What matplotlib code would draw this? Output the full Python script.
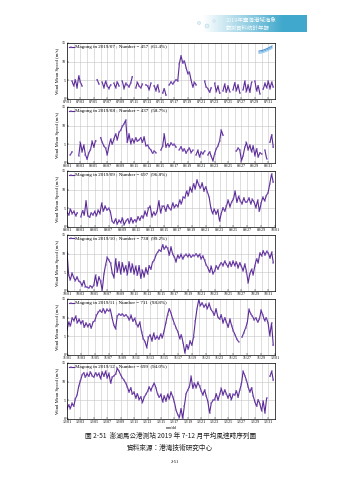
import numpy as np
import pandas as pd
import matplotlib
matplotlib.use('Agg')
from matplotlib import pyplot as plt

nan = np.nan

# 6-hourly wind mean speed (m/s), 4 values per day
month_starts = ['2019-07-01', '2019-08-01', '2019-09-01', '2019-10-01', '2019-11-01', '2019-12-01']
month_days = [31, 31, 30, 31, 30, 31]
numbers = [457, 437, 697, 738, 711, 699]
percents = ['61.4', '58.7', '96.8', '99.2', '98.8', '94.0']

jul = [nan, nan, nan, 4.8, 3.5, 5.2, 3.0, 6.2, 4.5, 3.5, nan, nan,
       nan, nan, nan, nan, nan, nan, 5.2, 4.0, nan, 4.5, 3.0, 4.8,
       3.5, 2.8, 3.8, nan, 4.2, 3.0, 4.6, 3.5, nan, 4.8, 2.8, 4.2,
       3.8, 3.2, 4.4, 6.0, nan, 3.0, 4.5, 3.4, 3.0, 4.0, nan, 3.8,
       3.5, 2.5, 4.2, nan, 3.6, 2.2, 3.8, 2.0, nan, 1.6, 2.8, 1.0,
       nan, 3.8, 4.6, 4.0, 4.6, 5.2, 4.8, 9.5, 11.6, 9.6, 10.2, 8.4,
       6.8, 7.2, 5.0, 3.2, 4.5, 3.8, nan, nan, nan, nan, 4.8, 3.2,
       2.8, 1.8, 3.0, nan, 4.2, 2.0, 3.5, 1.5, nan, 2.2, 4.0, 1.8,
       3.5, 2.0, nan, 2.5, 4.4, 2.2, 3.8, 1.6, nan, 2.5, 4.8, 2.0,
       3.8, 1.8, 4.5, nan, 4.8, 2.2, 3.6, 1.4, nan, 2.6, 4.2, 3.0,
       4.8, 2.8, 4.5, 3.2]
aug = [nan, nan, 2.2, 3.0, nan, nan, nan, 2.0, 5.5, 3.0, 4.8, 2.2,
       1.0, 2.8, 3.5, 5.8, 4.2, 6.0, nan, nan, 6.8, 5.6, 4.5, 4.0,
       2.2, 4.5, 6.4, 5.0, 6.5, 7.8, 6.2, 8.2, 8.8, 9.8, 10.5, 11.5,
       5.5, 7.8, 5.2, 6.5, 5.4, 6.8, 5.8, 6.2, 6.8, 5.5, 7.0, 4.6,
       4.8, 4.0, 3.5, 2.6, 3.2, 2.8, nan, nan, 3.5, 4.5, 7.8, 4.2,
       5.2, 4.4, 5.4, 4.8, 5.0, 4.2, nan, 3.6, 4.4, 3.2, 3.8, 2.6,
       3.5, 4.0, 2.8, 3.4, nan, 2.2, 3.4, 1.6, 3.0, 2.4, 3.2, nan,
       2.2, 3.0, 1.8, 0.6, 2.5, 3.8, 4.6, 6.0, 8.8, 7.4, nan, nan,
       nan, nan, nan, nan, nan, 3.2, 4.0, 3.5, 0.6, 2.0, 4.2, 5.5,
       3.5, 4.8, 3.0, 4.6, 2.0, 3.8, 1.6, 2.8, 2.4, nan, 3.4, 1.2,
       nan, 5.5, 7.6, 4.2]
sep = [4.0, 3.2, 4.8, 3.6, 4.2, 3.0, 3.8, nan, 2.8, 4.4, 3.2, 7.0,
       3.0, 2.6, 3.8, 3.2, 4.2, 3.0, 4.5, 3.6, 6.4, 4.2, 5.6, 4.5,
       5.0, 4.2, 1.6, 1.0, 2.2, 0.8, 1.8, 1.2, 2.4, 0.6, 1.6, 2.2,
       1.0, 2.5, 1.2, 2.0, 1.4, 2.8, 1.8, 3.0, 2.4, 4.2, 3.0, 5.0,
       5.6, 2.8, 4.0, 3.2, 4.2, 7.0, 3.8, 5.5, 5.6, 4.2, 6.0, 5.0,
       4.6, 6.4, 5.2, 6.0, 5.4, 7.2, 6.2, 8.0, 7.8, 9.6, 8.4, 10.6,
       9.4, 11.6, 10.2, 12.6, 11.2, 10.4, 11.8, 9.6, 10.8, 9.4, 8.0, 5.0,
       3.6, 4.8, 3.4, 4.6, 1.6, 3.6, 5.2, 4.2, 5.6, 7.2, 5.4, 6.8,
       7.4, 9.6, 6.6, 8.2, 7.0, 6.2, 7.8, 6.6, 6.8, 7.8, 6.2, 7.4,
       6.6, 5.2, 7.2, 4.2, 6.4, 8.0, 7.0, 8.4, 9.2, 11.6, 14.2, 12.0]
oct_ = [10.4, 4.2, 3.0, 4.8, 3.6, 2.8, 3.8, 2.6, 2.4, 1.4, 2.8, 1.2,
        1.0, 0.8, 1.4, 0.9, 1.6, 4.2, 1.4, 3.8, 2.6, 0.2, 4.5, 7.0,
        9.0, 8.2, 7.4, 4.8, 3.6, 8.6, 5.0, 7.8, 4.6, 7.6, 5.2, 6.8,
        4.4, 7.8, 5.0, 7.2, 4.6, 6.6, 4.2, 6.8, 3.4, 5.6, 3.8, 6.2,
        4.6, 6.8, 5.8, 7.8, 8.2, 9.6, 10.4, 11.0, 10.6, 12.4, 11.2, 12.0,
        11.4, 9.6, 11.8, 9.8, 9.2, 7.8, 9.6, 8.8, 9.8, 8.6, 9.4, 9.8,
        9.2, 9.8, 9.0, 9.6, 9.4, 10.0, 9.2, 9.8, 8.6, 9.4, 8.2, 7.0,
        6.2, 5.0, 6.6, 4.6, 5.4, 6.8, 5.8, 7.0, 7.6, 6.8, 8.0, 7.2,
        6.4, 7.8, 6.6, 8.0, 6.8, 7.8, 6.2, 7.6, 6.6, 5.4, 7.2, 5.2,
        2.2, 4.6, 5.8, 4.4, 6.8, 8.6, 7.6, 10.2, 9.4, 10.8, 9.6, 10.6,
        10.2, 8.8, 10.4, 7.6]
nov = [6.6, 8.8, 7.8, 10.0, 9.2, 10.4, 8.6, 9.6, 8.4, 9.2, 7.4, 8.6,
       7.6, 8.4, 7.2, 8.8, 9.2, 10.6, 11.4, 12.0, 11.4, 12.4, 11.2, 12.2,
       11.8, 12.2, 10.0, 8.0, 7.0, 10.4, 11.0, 10.6, 11.0, 10.4, 10.8, 10.2,
       9.4, 10.6, 9.0, 9.8, 8.4, 7.6, 8.8, 6.2, 4.4, 3.6, 2.0, 4.8,
       5.4, 3.8, 5.8, 4.2, 5.0, 4.2, 5.6, 4.6, 6.4, 8.6, 10.8, 12.4,
       11.2, 9.6, 8.4, 7.2, 6.2, 4.4, 5.4, 3.2, 0.6, 2.8, 1.6, 3.8,
       2.6, 4.8, 9.0, 12.4, 14.8, 13.2, 14.0, 12.8, 13.6, 12.4, 13.8, 12.2,
       11.6, 10.6, 12.4, 10.2, 9.6, 10.8, 8.6, 10.0, 8.8, 7.4, 9.6, 7.8,
       6.4, 5.4, 4.2, 3.6, nan, 4.8, 6.0, 7.2, 8.6, 12.2, 11.0, 10.4,
       9.4, 10.0, 8.8, 9.6, 12.0, 10.6, 9.2, 10.0, 8.6, 5.2, 8.6, 2.6]
dec = [2.6, 3.8, 2.8, 4.2, 3.4, 5.4, 6.4, 8.8, 10.2, 11.8, 12.4, 11.2,
       12.2, 11.4, 12.6, 11.6, 11.2, 12.4, 11.6, 12.2, 10.8, 12.6, 11.4, 12.8,
       11.0, 12.2, 9.6, 11.2, 11.6, 12.0, 13.6, 12.8, 11.8, 11.0, 10.4, 9.6,
       8.6, 7.2, 8.4, 6.6, 7.2, 5.6, 6.8, 5.2, 6.0, 4.4, 5.8, 6.6,
       7.4, 8.6, 7.6, 8.8, 9.6, 8.4, 6.6, 5.8, 6.6, 4.6, 6.2, 4.8,
       6.6, 5.4, 7.2, 6.0, 4.6, 2.4, 1.2, 0.4, 2.8, 0.2, 3.6, 6.8,
       7.8, 8.6, 11.4, 8.2, 9.6, 8.4, 9.8, 8.8, 7.6, 6.4, 7.8, 6.2,
       4.6, 1.6, 4.2, 5.0, 5.2, 6.8, 5.0, 6.6, 8.2, 6.4, 7.8, 6.8,
       5.6, 6.8, 5.2, 6.6, 6.4, 7.6, 5.8, 7.8, 9.4, 12.8, 11.6, 10.4,
       8.6, 7.2, 8.4, 6.2, 4.6, 3.4, 5.2, 4.0, 2.2, 4.8, 1.6, 5.6,
       nan, 11.4, 12.8, 10.4]
series = [jul, aug, sep, oct_, nov, dec]

caption = '圖 2-51  澎湖馬公港測站 2019 年 7-12 月平均風速時序列圖'
source = '資料來源：港灣技術研究中心'
page_no = '2-51'
header = ['2019年臺灣港域海象', '觀測資料統計年報']

W, H = 339, 480
line_color = '#5a2a96'
serif = 'Liberation Serif'
cjk = ['Noto Sans CJK TC', 'DejaVu Sans']

plt.rcParams['font.family'] = serif
fig = plt.figure(figsize=(W / 100, H / 100), dpi=100)

for i, vals in enumerate(series):
	top = 43 + 64 * i
	ax = fig.add_axes([67 / W, 1 - (top + 56) / H, 208 / W, 56 / H])
	ndays = month_days[i]
	start = pd.Timestamp(month_starts[i])
	x = np.arange(len(vals)) / 4.0
	label = 'Magong in %s ; Number = %d  (%s%%)' % (start.strftime('%Y/%m'), numbers[i], percents[i])
	ax.plot(x, vals, color=line_color, lw=0.8, marker='+', ms=1.8, mew=0.35,
		mec='#8b62c6', label=label)

	ax.set_xlim(0, ndays)
	ax.set_ylim(0, 15)
	ax.set_yticks([0, 5, 10, 15])
	ticks = np.arange(0, ndays + 1, 2)
	ax.set_xticks(ticks)
	ax.set_xticklabels([(start + pd.Timedelta(days=int(k))).strftime('%m/%d') for k in ticks])
	ax.set_xticks(np.arange(0, ndays + 1), minor=True)
	ax.grid(True, which='both', axis='x', color='#c4c4c4', lw=0.4)
	ax.grid(True, which='major', axis='y', color='#c4c4c4', lw=0.4)
	ax.set_axisbelow(True)
	ax.tick_params(labelsize=2.9, direction='in', length=1.2, width=0.3, pad=1)
	ax.tick_params(which='minor', length=0)
	for s in ax.spines.values():
		s.set_linewidth(0.5)
	ax.set_ylabel('Wind Mean Speed (m/s)', fontsize=3.4, labelpad=1.5)
	ax.legend(loc='upper left', fontsize=3.6, frameon=False, handlelength=1.0,
		handletextpad=0.3, borderaxespad=0.15, borderpad=0.2)
	if i == len(series) - 1:
		ax.set_xlabel('mm/dd', fontsize=2.8, labelpad=1)

# page decoration in pixel coordinates
ov = fig.add_axes([0, 0, 1, 1])
ov.set_xlim(0, W)
ov.set_ylim(H, 0)
ov.axis('off')

grad = np.zeros((1, 256, 4))
grad[..., 0] = 0.25
grad[..., 1] = 0.66
grad[..., 2] = 0.80
grad[..., 3] = np.clip(np.linspace(-0.25, 1.3, 256), 0, 1)
ov.imshow(grad, extent=[183, 307, 32, 15], aspect='auto', zorder=1)
ov.scatter([199, 207, 214], [23, 26, 21], s=[5, 8, 3], facecolor='#e4f2f8',
	edgecolor='#a9d3e3', lw=0.3, zorder=2)
ov.text(226, 20, header[0], fontsize=4.0, color='#f4fbfd', va='center', family=cjk, zorder=3)
ov.text(226, 27.5, header[1], fontsize=4.0, color='#f4fbfd', va='center', family=cjk, zorder=3)

# small logo in the first panel
t = np.linspace(0, 1, 30)
for k, c in enumerate(['#4b8fd0', '#6fb0e0', '#9ccbee']):
	ov.plot(259 + 13 * t, 51 - 5 * t ** 1.5 + 1.2 * k, color=c, lw=0.8, zorder=3)

fig.text(0.503, 1 - 436 / H, caption, ha='center', va='center', fontsize=4.8,
	family=cjk, color='#222222')
fig.text(0.5, 1 - 448 / H, source, ha='center', va='center', fontsize=4.8,
	family=cjk, color='#222222')
fig.text(0.515, 1 - 462 / H, page_no, ha='center', va='center', fontsize=3.2)

fig.savefig('out.png', dpi=100)
